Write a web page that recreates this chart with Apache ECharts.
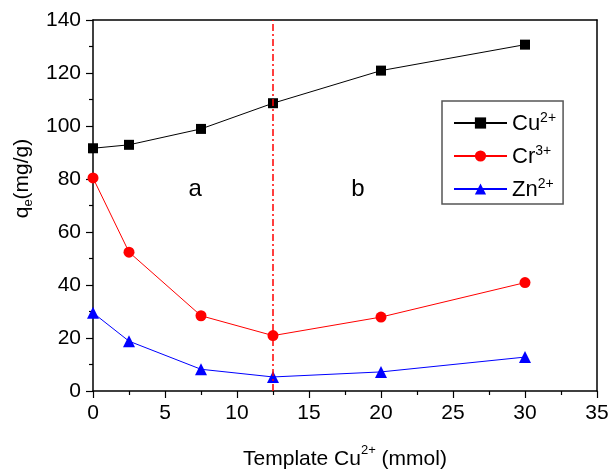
<!DOCTYPE html>
<html>
<head>
<meta charset="utf-8">
<script src="https://cdn.jsdelivr.net/npm/echarts@6/dist/echarts.min.js"></script>
<style>
  html, body { margin: 0; padding: 0; background: #fff; }
  #chart { width: 611px; height: 470px; }
</style>
</head>
<body>
<div id="chart"></div>
<script>
// Template Cu2+ amount (mmol)
const templateCu = [0, 2.5, 7.5, 12.5, 20, 30];
// Adsorption capacity q_e (mg/g) per metal ion
const cuValues = [91.6, 92.9, 98.9, 108.6, 120.9, 130.7];
const crValues = [80.4, 52.4, 28.4, 20.9, 27.9, 40.9];
const znValues = [29.5, 18.8, 8.2, 5.3, 7.2, 12.8];
const seriesNames = ['Cu2+', 'Cr3+', 'Zn2+'];
const xTicks = [0, 5, 10, 15, 20, 25, 30, 35];
const yTicks = [0, 20, 40, 60, 80, 100, 120, 140];
// Boundary between regions a and b, and region labels
const boundaryX = 12.5;
const regionLabels = [{ name: 'a', coord: [7.1, 76] }, { name: 'b', coord: [18.4, 76] }];

const FONT = 'Liberation Sans, Arial, sans-serif';

function pairs(xs, ys) { return xs.map((x, i) => [x, ys[i]]); }

const legendRich = {
  base: { fontSize: 22, fontFamily: FONT, color: '#000', verticalAlign: 'bottom', lineHeight: 24 },
  sup: { fontSize: 14, fontFamily: FONT, color: '#000', verticalAlign: 'top', lineHeight: 24, padding: [0, 0, 10, 0] }
};

const chart = echarts.init(document.getElementById('chart'), null, { renderer: 'canvas' });

const axisCommon = {
  axisLine: { show: true, onZero: false, lineStyle: { color: '#000', width: 1.5 } },
  splitLine: { show: false }
};

chart.setOption({
  animation: false,
  backgroundColor: '#fff',
  grid: { left: 93, right: 14, top: 20, bottom: 79, show: false, containLabel: false, outerBoundsMode: 'none' },
  xAxis: [{
    type: 'value', min: xTicks[0], max: xTicks[xTicks.length - 1], interval: 5,
    ...axisCommon,
    axisTick: { show: true, inside: false, length: 7, lineStyle: { color: '#000', width: 1.2 } },
    minorTick: { show: true, splitNumber: 2, length: 4, lineStyle: { color: '#000', width: 1.2 } },
    axisLabel: { fontSize: 21, fontFamily: FONT, color: '#000', margin: 12 },
    name: '{b|Template Cu}{s|2+}{b| (mmol)}',
    nameLocation: 'middle', nameGap: 53,
    nameTextStyle: {
      rich: {
        b: { fontSize: 21, fontFamily: FONT, color: '#000', lineHeight: 26, verticalAlign: 'bottom' },
        s: { fontSize: 13, fontFamily: FONT, color: '#000', lineHeight: 26, verticalAlign: 'top' }
      }
    }
  }, {
    type: 'value', position: 'top', min: 0, max: 35, interval: 5,
    ...axisCommon, axisTick: { show: false }, axisLabel: { show: false }
  }],
  yAxis: [{
    type: 'value', min: yTicks[0], max: yTicks[yTicks.length - 1], interval: 20,
    ...axisCommon,
    axisTick: { show: true, inside: false, length: 7, lineStyle: { color: '#000', width: 1.2 } },
    minorTick: { show: true, splitNumber: 2, length: 4, lineStyle: { color: '#000', width: 1.2 } },
    axisLabel: { fontSize: 21, fontFamily: FONT, color: '#000', margin: 12 },
    name: '{b|q}{s|e}{b|(mg/g)}',
    nameLocation: 'middle', nameGap: 53, nameRotate: 90,
    nameTextStyle: {
      padding: [0, 0, 0, 54],
      rich: {
        b: { fontSize: 21, fontFamily: FONT, color: '#000', lineHeight: 26 },
        s: { fontSize: 13, fontFamily: FONT, color: '#000', lineHeight: 26, verticalAlign: 'bottom', padding: [8, 0, 0, 0] }
      }
    }
  }, {
    type: 'value', position: 'right', min: 0, max: 140, interval: 20,
    ...axisCommon, axisTick: { show: false }, axisLabel: { show: false }
  }],
  legend: {
    left: 442, top: 101, orient: 'vertical',
    data: seriesNames,
    itemWidth: 53, itemHeight: 14, itemGap: 9,
    padding: [10, 7, 3, 11],
    borderColor: '#555', borderWidth: 1.5,
    formatter: function (name) {
      const m = name.match(/^([A-Za-z]+)(.*)$/);
      return '{base|' + m[1] + '}{sup|' + m[2] + '}';
    },
    textStyle: { rich: legendRich, padding: [0, 0, 0, 0] }
  },
  series: [{
    name: seriesNames[0], type: 'line', data: pairs(templateCu, cuValues),
    symbol: 'rect', symbolSize: 10,
    lineStyle: { color: '#000', width: 1 }, itemStyle: { color: '#000' },
    markLine: {
      silent: true, symbol: 'none', label: { show: false },
      lineStyle: { color: '#ff0000', width: 1.5, type: [7, 3, 2, 3] },
      data: [{ xAxis: boundaryX }]
    },
    markPoint: {
      silent: true, symbol: 'circle', symbolSize: 0,
      label: { show: true, position: 'inside', formatter: '{b}', fontSize: 24, fontFamily: FONT, color: '#000' },
      data: regionLabels
    }
  }, {
    name: seriesNames[1], type: 'line', data: pairs(templateCu, crValues),
    symbol: 'circle', symbolSize: 11,
    lineStyle: { color: '#ff0000', width: 1 }, itemStyle: { color: '#ff0000' }
  }, {
    name: seriesNames[2], type: 'line', data: pairs(templateCu, znValues),
    symbol: 'triangle', symbolSize: 12,
    lineStyle: { color: '#0000ff', width: 1 }, itemStyle: { color: '#0000ff' }
  }]
});
</script>
</body>
</html>
